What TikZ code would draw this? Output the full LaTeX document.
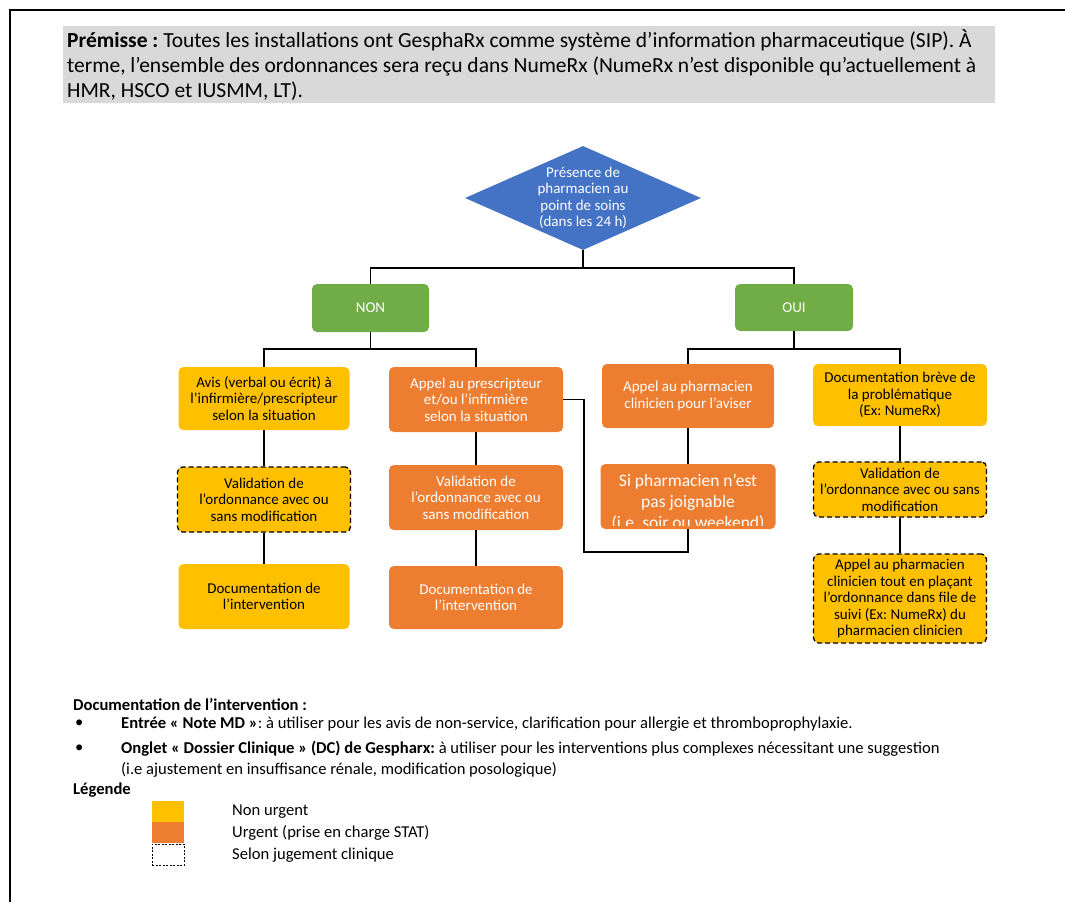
\documentclass[tikz,border=0pt]{standalone}
\usepackage{fontspec}
\setmainfont{Carlito}
\usepackage{tikz}
\usetikzlibrary{shapes.geometric}
\frenchspacing

\definecolor{bleu}{HTML}{4472C4}
\definecolor{vert}{HTML}{70AD47}
\definecolor{jaune}{HTML}{FFC000}
\definecolor{orangeu}{HTML}{ED7D31}
\definecolor{grisfond}{HTML}{D9D9D9}

\newcommand{\boitefont}{\fontsize{15}{16.5}\selectfont}
\newcommand{\notefont}{\fontsize{16.6}{19}\selectfont}

\tikzset{
	boite/.style={rectangle, rounded corners=5pt, inner sep=2pt, align=center, font=\boitefont},
	nonurgent/.style={boite, fill=jaune, text=black},
	urgent/.style={boite, fill=orangeu, text=white},
	reponse/.style={boite, fill=vert, text=white},
	jugement/.style={draw=black, line width=1.3pt, dash pattern=on 5pt off 3pt},
	lien/.style={line width=1.3pt},
	note/.style={anchor=west, inner sep=0pt, font=\notefont},
}

\newcommand{\legende}[4] % {nom}{style}{y}{texte}
{
	\node[#2, anchor=north west, minimum width=32pt, minimum height=21pt, inner sep=0pt] (#1) at (152,#3) {};
	\node[note] (#1txt) at (232,#3+11) {#4};
}

\begin{document}
\begin{tikzpicture}[x=1pt, y=-1pt]
	\useasboundingbox (0,0) rectangle (1065,902);
	\draw [line width=2pt] (10,902) -- (10,10) -- (1065,10);

	% premisse
	\node[anchor=north west, fill=grisfond, text width=924pt, inner xsep=4pt, inner ysep=0pt, minimum height=77pt, align=flush left, font=\fontsize{21.5}{25}\selectfont] (premisse) at (63,26)
		{\textbf{Prémisse :} Toutes les installations ont GesphaRx comme système d’information pharmaceutique (SIP). À\\
		terme, l’ensemble des ordonnances sera reçu dans NumeRx (NumeRx n’est disponible qu’actuellement à\\
		HMR, HSCO et IUSMM, LT).};

	% question
	\node[diamond, fill=bleu, minimum width=236pt, minimum height=104pt, inner sep=0pt] (q) at (583,198) {};
	\node[align=center, text=white, font=\boitefont, inner sep=0pt] (qtxt) at (q) {Présence de\\pharmacien au\\point de soins\\(dans les 24 h)};

	\node[reponse, minimum width=117pt, minimum height=48pt] (non) at (370.5,308) {NON};
	\node[reponse, minimum width=118pt, minimum height=47pt] (oui) at (794,307.5) {OUI};

	% NON
	\node[nonurgent, minimum width=171pt, minimum height=63pt] (avis) at (264,398.5) {Avis (verbal ou écrit) à\\l'infirmière/prescripteur\\selon la situation};
	\node[nonurgent, jugement, minimum width=173pt, minimum height=65pt] (valg) at (264,499.5) {Validation de\\l'ordonnance avec ou\\sans modification};
	\node[nonurgent, minimum width=171pt, minimum height=65pt] (docg) at (264,596.5) {Documentation de\\l'intervention};

	\node[urgent, minimum width=174pt, minimum height=65pt] (appelp) at (476,399.5) {Appel au prescripteur\\et/ou l'infirmière\\selon la situation};
	\node[urgent, minimum width=174pt, minimum height=65pt] (valo) at (476,497.5) {Validation de\\l'ordonnance avec ou\\sans modification};
	\node[urgent, minimum width=174pt, minimum height=63pt] (doco) at (476,597.5) {Documentation de\\l'intervention};

	% OUI
	\node[urgent, minimum width=172pt, minimum height=64pt] (appelc) at (688,396) {Appel au pharmacien\\clinicien pour l'aviser};
	\node[urgent, minimum width=175pt, minimum height=65pt] (si) at (688,496.5) {};
	\begin{scope}
		\clip (si.north west) rectangle ([yshift=4pt]si.south east);
		\node[anchor=north, align=center, text=white, inner sep=0pt, font=\fontsize{17.5}{21}\selectfont] (sitxt) at (688,474) {Si pharmacien n’est\\pas joignable\\(i.e. soir ou weekend)};
	\end{scope}

	\node[nonurgent, minimum width=174pt, minimum height=62pt] (docb) at (900,395) {Documentation brève de\\la problématique\\(Ex: NumeRx)};
	\node[nonurgent, jugement, minimum width=173pt, minimum height=55pt] (valr) at (900,489.5) {Validation de\\l'ordonnance avec ou sans\\modification};
	\node[nonurgent, jugement, minimum width=173pt, minimum height=89pt] (appelr) at (900,598.5) {Appel au pharmacien\\clinicien tout en plaçant\\l'ordonnance dans file de\\suivi (Ex: NumeRx) du\\pharmacien clinicien};

	% liens
	\coordinate (busq) at (583,268);
	\coordinate (busnon) at (370.5,349);
	\coordinate (busoui) at (794,349);
	\draw[lien] (q.south) -- (busq);
	\draw[lien] (non.north) |- (busq) -| (oui.north);
	\draw[lien] (non.south) -- (busnon);
	\draw[lien] (avis.north) |- (busnon) -| (appelp.north);
	\draw[lien] (oui.south) -- (busoui);
	\draw[lien] (appelc.north) |- (busoui) -| (docb.north);
	\draw[lien] (avis) -- (valg) -- (docg);
	\draw[lien] (appelp) -- (valo) -- (doco);
	\draw[lien] (appelc) -- (si);
	\draw[lien] (docb) -- (valr) -- (appelr);
	\draw[lien] (appelp.east) -| (584,552) -| (si.south);

	% documentation et legende
	\node[note] (doctitre) at (73,705) {\textbf{Documentation de l’intervention :}};
	\node[note] (puce1) at (75,724) {\textbullet};
	\node[note] (entree) at (121,724) {\textbf{Entrée « Note MD »}: à utiliser pour les avis de non-service, clarification pour allergie et thromboprophylaxie.};
	\node[note] (puce2) at (75,749) {\textbullet};
	\node[note] (onglet) at (121,749) {\textbf{Onglet « Dossier Clinique » (DC) de Gespharx:} à utiliser pour les interventions plus complexes nécessitant une suggestion};
	\node[note] (onglet2) at (121,770) {(i.e ajustement en insuffisance rénale, modification posologique)};
	\node[note] (legtitre) at (73,790) {\textbf{Légende}};

	\legende{leg1}{fill=jaune}{801}{Non urgent}
	\legende{leg2}{fill=orangeu}{822}{Urgent (prise en charge STAT)}
	\legende{leg3}{draw=black, line width=0.8pt, dash pattern=on 2pt off 1.5pt}{844}{Selon jugement clinique}
\end{tikzpicture}
\end{document}
